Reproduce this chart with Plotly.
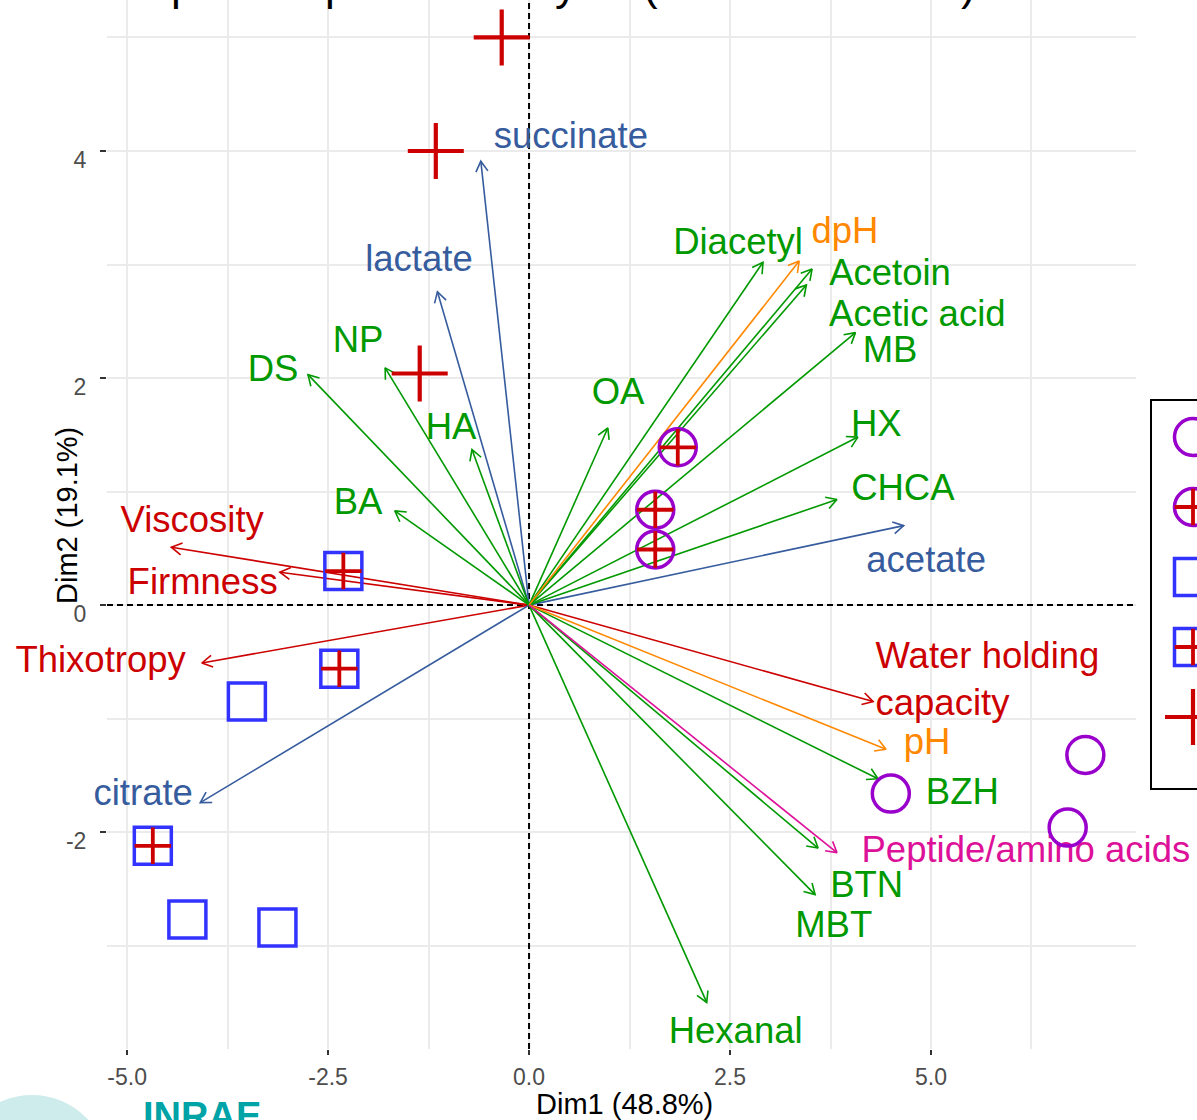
import math
import plotly.graph_objects as go

# ---------------- individuals (Dim1, Dim2) ----------------
circle_x = [4.50, 6.92, 6.70]
circle_y = [-1.66, -1.32, -1.96]
circle_plus_x = [1.85, 1.57, 1.57]
circle_plus_y = [1.39, 0.84, 0.49]
square_x = [-3.51, -4.25, -3.13]
square_y = [-0.85, -2.77, -2.84]
square_plus_x = [-2.31, -2.36, -4.68]
square_plus_y = [0.30, -0.56, -2.12]
plus_x = [-0.34, -1.16, -1.36]
plus_y = [5.00, 4.00, 2.04]

# ---------------- variables (arrow tips and label anchors) ----------------
var_names = ["succinate", "lactate", "DS", "NP", "HA", "BA", "Viscosity", "Firmness",
             "Thixotropy", "citrate", "Hexanal", "BTN", "MBT", "Peptide/amino acids",
             "BZH", "pH", "Water holding<br>capacity", "acetate", "CHCA", "HX", "MB",
             "Acetic acid", "Acetoin", "dpH", "Diacetyl", "OA"]
var_x = [-0.60, -1.14, -2.75, -1.79, -0.71, -1.67, -4.45, -3.10,
         -4.07, -4.09, 2.21, 3.595, 3.558, 3.83,
         4.34, 4.44, 4.28, 4.66, 3.83, 4.09, 4.06,
         3.45, 3.52, 3.36, 2.91, 0.98]
var_y = [3.91, 2.76, 2.03, 2.09, 1.37, 0.83, 0.51, 0.29,
         -0.51, -1.74, -3.50, -2.14, -2.55, -2.18,
         -1.53, -1.27, -0.85, 0.70, 0.93, 1.48, 2.40,
         2.82, 2.96, 3.03, 3.02, 1.56]
var_group = ["acid", "acid", "volatile", "volatile", "volatile", "volatile", "texture", "texture",
             "texture", "acid", "volatile", "volatile", "volatile", "peptide",
             "volatile", "ph", "texture", "acid", "volatile", "volatile", "volatile",
             "volatile", "volatile", "ph", "volatile", "volatile"]
# label anchor: centre of the text, except "left" = right edge, "right" = left edge
label_x = [0.52, -1.37, -3.185, -2.127, -0.97, -2.127, -4.19, -4.06,
           -4.27, -4.80, 2.57, 4.20, 3.79, 6.18,
           5.39, 4.95, 4.31, 4.94, 4.65, 4.32, 4.49,
           4.83, 4.49, 3.93, 2.60, 1.107]
label_y = [4.11, 3.02, 2.05, 2.31, 1.54, 0.88, 0.72, 0.18,
           -0.51, -1.68, -3.78, -2.49, -2.84, -2.18,
           -1.67, -1.23, -0.68, 0.37, 1.01, 1.57, 2.22,
           2.54, 2.90, 3.27, 3.17, 1.85]
label_side = ["center"] * 8 + ["left"] + ["center"] * 7 + ["right"] + ["center"] * 9
label_pos = ["middle " + s for s in label_side]

group_colors = {"texture": "#CC0000", "acid": "#365C9E", "volatile": "#009900",
                "ph": "#FF8800", "peptide": "#DD1199"}

x_tick_vals = [-5, -2.5, 0, 2.5, 5]
x_tick_text = ["-5.0", "-2.5", "0.0", "2.5", "5.0"]
x_minor_vals = [-3.75, -1.25, 1.25, 3.75, 6.25]
y_tick_vals = [-2, 0, 2, 4]
y_tick_text = ["-2", "0", "2", "4"]
y_minor_vals = [-3, -1, 1, 3, 5]

legend_groups = ["group 1", "group 2", "group 3", "group 4", "group 5"]

# ---------------- geometry ----------------
W, H = 1197, 1120
ML, MR, MT, MB = 107, 0, 0, 71
PW = W - ML - MR
PH = H - MT - MB
panel_w = 1029
x_range = [-5.25, 7.55]
y_range = [-3.91, 5.33]
sx = panel_w / (x_range[1] - x_range[0])
sy = PH / (y_range[1] - y_range[0])

PURPLE = "#9900CC"
BLUE = "#3333FF"
RED = "#CC0000"
FONT = "Liberation Sans, Arial, sans-serif"

fig = go.Figure()

# ---------------- dashed zero reference lines ----------------
fig.add_trace(go.Scatter(x=x_range, y=[0, 0], mode="lines", cliponaxis=True,
                         line=dict(color="black", width=2, dash="6px,4px"),
                         hoverinfo="skip", showlegend=False))
fig.add_trace(go.Scatter(x=[0, 0], y=y_range, mode="lines", cliponaxis=True,
                         line=dict(color="black", width=2, dash="6px,4px"),
                         hoverinfo="skip", showlegend=False))

# ---------------- arrows ----------------
head_len = 12.0
head_ang = math.radians(30)
for grp, col in group_colors.items():
    xs, ys = [], []
    for vx, vy, g in zip(var_x, var_y, var_group):
        if g != grp:
            continue
        xs += [0, vx, None]
        ys += [0, vy, None]
        th = math.atan2(vy * sy, vx * sx)
        h = []
        for s in (1, -1):
            a = th + s * head_ang
            h.append((vx - head_len * math.cos(a) / sx, vy - head_len * math.sin(a) / sy))
        xs += [h[0][0], vx, h[1][0], None]
        ys += [h[0][1], vy, h[1][1], None]
    fig.add_trace(go.Scatter(x=xs, y=ys, mode="lines", line=dict(color=col, width=1.6),
                             hoverinfo="skip", showlegend=False))

# ---------------- variable labels ----------------
fig.add_trace(go.Scatter(
    x=label_x, y=label_y, mode="text", text=var_names, textposition=label_pos,
    textfont=dict(family=FONT, size=36.5, color=[group_colors[g] for g in var_group]),
    cliponaxis=False, hoverinfo="skip", showlegend=False))

# ---------------- individuals ----------------
def pts(x, y, symbol, size, color, width, xa="x", ya="y"):
    return go.Scatter(x=x, y=y, mode="markers", xaxis=xa, yaxis=ya,
                      marker=dict(symbol=symbol, size=size, color=color,
                                  line=dict(color=color, width=width)),
                      cliponaxis=False, hoverinfo="skip", showlegend=False)

fig.add_trace(pts(square_x + square_plus_x, square_y + square_plus_y, "square-open", 37, BLUE, 3.5))
fig.add_trace(pts(circle_x + circle_plus_x, circle_y + circle_plus_y, "circle-open", 37, PURPLE, 3.5))
fig.add_trace(pts(square_plus_x + circle_plus_x, square_plus_y + circle_plus_y, "cross-thin-open", 26, RED, 3.8))
fig.add_trace(pts(plus_x, plus_y, "cross-thin-open", 40, RED, 4.2))

# ---------------- legend keys (cropped legend at right) ----------------
leg_idx = list(range(len(legend_groups)))
key_x = [0] * len(legend_groups)
fig.add_trace(pts([key_x[0], key_x[1]], [leg_idx[0], leg_idx[1]], "circle-open", 37, PURPLE, 3.5, "x2", "y2"))
fig.add_trace(pts([key_x[2], key_x[3]], [leg_idx[2], leg_idx[3]], "square-open", 37, BLUE, 3.5, "x2", "y2"))
fig.add_trace(pts([key_x[1], key_x[3]], [leg_idx[1], leg_idx[3]], "cross-thin-open", 26, RED, 3.8, "x2", "y2"))
fig.add_trace(pts([key_x[4]], [leg_idx[4]], "cross-thin-open", 40, RED, 4.2, "x2", "y2"))

# ---------------- layout ----------------
axis_common = dict(showline=False, zeroline=False, ticks="outside", tickcolor="#333333",
                   tickwidth=2, showgrid=True, gridcolor="#EBEBEB", gridwidth=2,
                   automargin=False,
                   tickfont=dict(family=FONT, size=23, color="#4D4D4D"))

fig.update_layout(
    template="none",
    width=W, height=H,
    margin=dict(l=ML, r=MR, t=MT, b=MB, pad=0, autoexpand=False),
    paper_bgcolor="white", plot_bgcolor="white",
    showlegend=False,
    xaxis=dict(domain=[0, panel_w / PW], range=x_range, tickmode="array",
               tickvals=x_tick_vals, ticktext=x_tick_text, ticklen=5, ticklabelstandoff=2,
               minor=dict(tickvals=x_minor_vals, showgrid=True, gridcolor="#EBEBEB", gridwidth=1.5),
               anchor="y", **axis_common),
    yaxis=dict(domain=[0, 1], range=y_range, tickmode="array",
               tickvals=y_tick_vals, ticktext=y_tick_text, ticklen=6,
               ticklabelstandoff=9, ticklabelshift=9,
               minor=dict(tickvals=y_minor_vals, showgrid=True, gridcolor="#EBEBEB", gridwidth=1.5),
               anchor="x", **axis_common),
    xaxis2=dict(domain=[(1142.5 - ML) / PW, 1], range=[-50.5, 4], visible=False, anchor="y2",
                fixedrange=True, automargin=False),
    yaxis2=dict(domain=[0, 1], range=[(PH - 437) / 70.0, -437 / 70.0], visible=False, anchor="x2",
                fixedrange=True, automargin=False),
)

def px_x(p):
    return (p - ML) / PW

def px_y(p):
    return (PH - p) / PH

# legend frame
fig.add_shape(type="rect", xref="paper", yref="paper", x0=px_x(1151), x1=px_x(1260),
              y0=px_y(789), y1=px_y(400), line=dict(color="black", width=2),
              fillcolor="rgba(0,0,0,0)", layer="above")

# axis titles
fig.add_annotation(text="Dim1 (48.8%)", xref="paper", yref="paper", x=px_x(624), y=px_y(1104),
                   showarrow=False, xanchor="center", yanchor="middle",
                   font=dict(family=FONT, size=29, color="black"))
fig.add_annotation(text="Dim2 (19.1%)", xref="paper", yref="paper", x=px_x(67), y=px_y(516),
                   showarrow=False, xanchor="center", yanchor="middle", textangle=-90,
                   font=dict(family=FONT, size=29, color="black"))

# cropped title
fig.add_annotation(text="Principal component analysis (Dim1 and Dim2)", xref="paper", yref="paper",
                   x=px_x(59), y=px_y(11), showarrow=False, xanchor="left", yanchor="bottom",
                   font=dict(family=FONT, size=44, color="black"))

# cropped logo
fig.add_shape(type="circle", xref="paper", yref="paper",
              x0=px_x(32 - 76), x1=px_x(32 + 76), y0=px_y(1171 + 76), y1=px_y(1171 - 76),
              line=dict(width=0), fillcolor="#CFECED", layer="below")
fig.add_annotation(text="<b>INRAE</b>", xref="paper", yref="paper", x=px_x(141), y=px_y(1093),
                   showarrow=False, xanchor="left", yanchor="top",
                   font=dict(family=FONT, size=38, color="#00A3A6"))

fig.write_html("out.html", config={"displayModeBar": False},
               post_script="document.body.style.margin='0';")
